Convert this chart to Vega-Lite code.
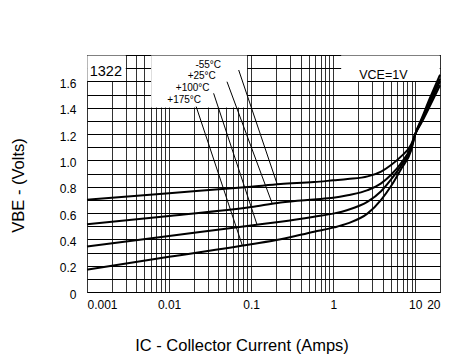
{
  "$schema": "https://vega.github.io/schema/vega-lite/v6.json",
  "width": 353,
  "height": 237,
  "autosize": "none",
  "padding": {"left": 87, "top": 55, "right": 17, "bottom": 65},
  "background": "white",
  "config": {
    "view": {"stroke": "#000", "strokeWidth": 1},
    "font": "Liberation Sans"
  },
  "datasets": {
    "curves": [
      {"t": "-55", "x": 0.001, "y": 0.70},
      {"t": "-55", "x": 0.01, "y": 0.75},
      {"t": "-55", "x": 0.1, "y": 0.80},
      {"t": "-55", "x": 0.2285, "y": 0.82},
      {"t": "-55", "x": 0.584, "y": 0.835},
      {"t": "-55", "x": 1.0, "y": 0.848},
      {"t": "-55", "x": 1.5, "y": 0.858},
      {"t": "-55", "x": 2.63, "y": 0.878},
      {"t": "-55", "x": 3.83, "y": 0.915},
      {"t": "-55", "x": 5.07, "y": 0.965},
      {"t": "-55", "x": 6.72, "y": 1.03},
      {"t": "-55", "x": 8.9, "y": 1.12},
      {"t": "-55", "x": 10, "y": 1.2},
      {"t": "-55", "x": 12, "y": 1.29},
      {"t": "-55", "x": 15, "y": 1.41},
      {"t": "-55", "x": 20, "y": 1.57},
      {"t": "25", "x": 0.001, "y": 0.515},
      {"t": "25", "x": 0.01, "y": 0.578},
      {"t": "25", "x": 0.1, "y": 0.645},
      {"t": "25", "x": 0.2285, "y": 0.68},
      {"t": "25", "x": 0.584, "y": 0.703},
      {"t": "25", "x": 1.0, "y": 0.715},
      {"t": "25", "x": 1.5, "y": 0.735},
      {"t": "25", "x": 2.63, "y": 0.774},
      {"t": "25", "x": 3.83, "y": 0.825},
      {"t": "25", "x": 5.07, "y": 0.89},
      {"t": "25", "x": 6.72, "y": 0.98},
      {"t": "25", "x": 8.9, "y": 1.105},
      {"t": "25", "x": 10, "y": 1.2},
      {"t": "25", "x": 12, "y": 1.30},
      {"t": "25", "x": 15, "y": 1.43},
      {"t": "25", "x": 20, "y": 1.60},
      {"t": "100", "x": 0.001, "y": 0.345},
      {"t": "100", "x": 0.01, "y": 0.425},
      {"t": "100", "x": 0.1, "y": 0.505},
      {"t": "100", "x": 0.2285, "y": 0.534},
      {"t": "100", "x": 0.584, "y": 0.572},
      {"t": "100", "x": 1.03, "y": 0.597},
      {"t": "100", "x": 1.5, "y": 0.623},
      {"t": "100", "x": 2.63, "y": 0.686},
      {"t": "100", "x": 3.83, "y": 0.765},
      {"t": "100", "x": 5.07, "y": 0.855},
      {"t": "100", "x": 6.72, "y": 0.96},
      {"t": "100", "x": 8.9, "y": 1.09},
      {"t": "100", "x": 10, "y": 1.2},
      {"t": "100", "x": 12, "y": 1.31},
      {"t": "100", "x": 15, "y": 1.45},
      {"t": "100", "x": 20, "y": 1.62},
      {"t": "175", "x": 0.001, "y": 0.17},
      {"t": "175", "x": 0.01, "y": 0.267},
      {"t": "175", "x": 0.1, "y": 0.362},
      {"t": "175", "x": 0.2285, "y": 0.40},
      {"t": "175", "x": 0.584, "y": 0.458},
      {"t": "175", "x": 1.03, "y": 0.491},
      {"t": "175", "x": 1.5, "y": 0.521},
      {"t": "175", "x": 2.63, "y": 0.597},
      {"t": "175", "x": 3.83, "y": 0.70},
      {"t": "175", "x": 5.07, "y": 0.805},
      {"t": "175", "x": 6.72, "y": 0.935},
      {"t": "175", "x": 8.9, "y": 1.075},
      {"t": "175", "x": 10, "y": 1.2},
      {"t": "175", "x": 12, "y": 1.32},
      {"t": "175", "x": 15, "y": 1.47},
      {"t": "175", "x": 20, "y": 1.65}
    ],
    "masks": [
      {"x": 0.00101, "xe": 0.00297, "y": 1.602, "ye": 1.797},
      {"x": 0.00605, "xe": 0.0892, "y": 1.402, "ye": 1.797},
      {"x": 1.25, "xe": 19.85, "y": 1.602, "ye": 1.797}
    ],
    "pointers": [
      {"x": 0.0705, "y": 1.686, "xe": 0.208, "ye": 0.817},
      {"x": 0.0508, "y": 1.597, "xe": 0.181, "ye": 0.67},
      {"x": 0.0349, "y": 1.509, "xe": 0.118, "ye": 0.511},
      {"x": 0.0214, "y": 1.408, "xe": 0.0782, "ye": 0.352}
    ],
    "temps": [
      {"label": "-55°C", "x": 0.0300, "y": 1.724},
      {"label": "+25°C", "x": 0.0250, "y": 1.640},
      {"label": "+100°C", "x": 0.0194, "y": 1.549},
      {"label": "+175°C", "x": 0.01527, "y": 1.458}
    ],
    "part": [{"label": "1322", "x": 0.00108, "y": 1.673}],
    "cond": [{"label": "VCE=1V", "x": 2.076, "y": 1.648}]
  },
  "encoding": {
    "x": {
      "field": "x",
      "type": "quantitative",
      "scale": {"type": "log", "domain": [0.001, 20], "nice": false},
      "axis": {
        "values": [0.001, 0.002, 0.003, 0.004, 0.005, 0.006, 0.007, 0.008, 0.009,
                   0.01, 0.02, 0.03, 0.04, 0.05, 0.06, 0.07, 0.08, 0.09,
                   0.1, 0.2, 0.3, 0.4, 0.5, 0.6, 0.7, 0.8, 0.9,
                   1, 2, 3, 4, 5, 6, 7, 8, 9, 10, 20],
        "format": "~g",
        "labelExpr": "datum.value == 0.001 || datum.value == 0.01 || datum.value == 0.1 || datum.value == 1 || datum.value == 10 || datum.value == 20 ? datum.label : ''",
        "labelOverlap": false,
        "labelBound": false,
        "ticks": false,
        "domain": false,
        "grid": true,
        "gridColor": "#333",
        "gridOpacity": 1,
        "gridWidth": 1,
        "labelFont": "Liberation Sans",
        "labelFontSize": 12,
        "labelColor": "#000",
        "labelPadding": 7,
        "title": "IC - Collector Current (Amps)",
        "titleFont": "Liberation Sans",
        "titleFontSize": 16.5,
        "titleFontWeight": "normal",
        "titleColor": "#000",
        "titleX": 154.5,
        "titleY": 58,
        "titleAlign": "center",
        "titleBaseline": "alphabetic"
      }
    },
    "y": {
      "field": "y",
      "type": "quantitative",
      "scale": {"domain": [0, 1.8], "nice": false, "zero": true},
      "axis": {
        "values": [0, 0.1, 0.2, 0.3, 0.4, 0.5, 0.6, 0.7, 0.8, 0.9, 1.0, 1.1, 1.2, 1.3, 1.4, 1.5, 1.6, 1.7, 1.8],
        "format": ".1f",
        "labelExpr": "datum.value == 0 ? '0' : ((round(datum.value * 10) % 2 == 0 && datum.value < 1.65) ? datum.label : '')",
        "labelOverlap": false,
        "labelBound": false,
        "labelFlush": false,
        "ticks": false,
        "domain": false,
        "grid": true,
        "gridColor": "#000",
        "gridOpacity": 1,
        "gridWidth": 1,
        "labelFont": "Liberation Sans",
        "labelFontSize": 12,
        "labelColor": "#000",
        "labelPadding": 11,
        "labelOffset": 2,
        "title": "VBE - (Volts)",
        "titleFont": "Liberation Sans",
        "titleFontSize": 16.5,
        "titleFontWeight": "normal",
        "titleColor": "#000",
        "titleX": -61,
        "titleY": 130,
        "titleAngle": 270,
        "titleAlign": "center",
        "titleBaseline": "bottom"
      }
    }
  },
  "layer": [
    {
      "data": {"name": "masks"},
      "mark": {"type": "rect", "fill": "white", "stroke": null},
      "encoding": {
        "x2": {"field": "xe"},
        "y2": {"field": "ye"}
      }
    },
    {
      "data": {"name": "curves"},
      "mark": {"type": "line", "color": "#000", "strokeWidth": 2, "interpolate": "monotone"},
      "encoding": {
        "detail": {"field": "t", "type": "nominal"}
      }
    },
    {
      "data": {"name": "pointers"},
      "mark": {"type": "rule", "color": "#000", "strokeWidth": 1},
      "encoding": {
        "x2": {"field": "xe"},
        "y2": {"field": "ye"}
      }
    },
    {
      "data": {"name": "temps"},
      "mark": {"type": "text", "font": "Liberation Sans", "fontSize": 10, "color": "#000", "align": "center", "baseline": "middle"},
      "encoding": {"text": {"field": "label"}}
    },
    {
      "data": {"name": "part"},
      "mark": {"type": "text", "font": "Liberation Sans", "fontSize": 14.5, "color": "#000", "align": "left", "baseline": "middle"},
      "encoding": {"text": {"field": "label"}}
    },
    {
      "data": {"name": "cond"},
      "mark": {"type": "text", "font": "Liberation Sans", "fontSize": 12.5, "color": "#000", "align": "left", "baseline": "middle"},
      "encoding": {"text": {"field": "label"}}
    }
  ]
}
